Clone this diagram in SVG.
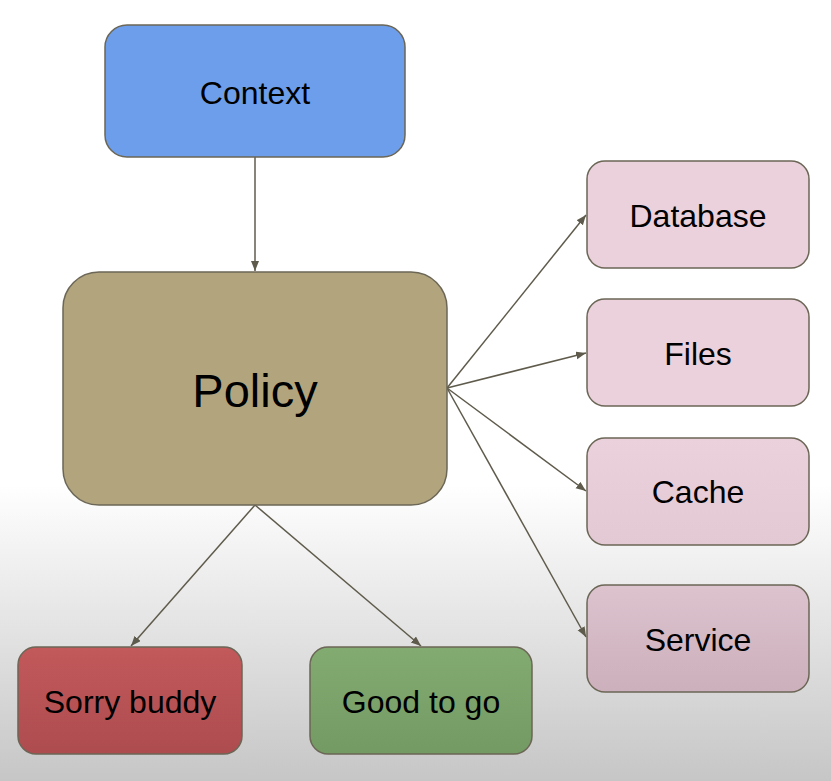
<svg xmlns="http://www.w3.org/2000/svg" width="831" height="781" viewBox="0 0 831 781">
<defs>
<linearGradient id="bg" x1="0" y1="0" x2="0" y2="1">
<stop offset="0" stop-color="#ffffff"/>
<stop offset="0.62" stop-color="#ffffff"/>
<stop offset="1" stop-color="#c6c6c6"/>
</linearGradient>
<linearGradient id="gSvc" x1="0" y1="0" x2="0" y2="1">
<stop offset="0" stop-color="#dcc3ce"/>
<stop offset="1" stop-color="#ccb0bc"/>
</linearGradient>
<linearGradient id="gCache" x1="0" y1="0" x2="0" y2="1">
<stop offset="0" stop-color="#ead1dc"/>
<stop offset="1" stop-color="#e2c9d4"/>
</linearGradient>
<linearGradient id="gRed" x1="0" y1="0" x2="0" y2="1">
<stop offset="0" stop-color="#c2595b"/>
<stop offset="1" stop-color="#ad4c4f"/>
</linearGradient>
<linearGradient id="gGreen" x1="0" y1="0" x2="0" y2="1">
<stop offset="0" stop-color="#82ab71"/>
<stop offset="1" stop-color="#739a63"/>
</linearGradient>
<marker id="ah" markerUnits="userSpaceOnUse" markerWidth="12" markerHeight="10" refX="10" refY="4" orient="auto">
<path d="M0,0 L10,4 L0,8 z" fill="#5f5b4c"/>
</marker>
<style>
.box{stroke:#6b6656;stroke-width:1.5}
.lbl{font-family:"Liberation Sans",Arial,sans-serif;font-size:32px;fill:#000;text-anchor:middle}
.edge{stroke:#5f5b4c;stroke-width:1.5;fill:none;marker-end:url(#ah)}
</style>
</defs>
<rect x="0" y="0" width="831" height="781" fill="url(#bg)"/>
<g id="connectors">
<line class="edge" x1="255" y1="157" x2="255" y2="271"/>
<line class="edge" x1="447" y1="388" x2="586" y2="215"/>
<line class="edge" x1="447" y1="388" x2="586" y2="353"/>
<line class="edge" x1="447" y1="388" x2="586" y2="491"/>
<line class="edge" x1="447" y1="388" x2="586" y2="637"/>
<line class="edge" x1="255" y1="505" x2="131" y2="646"/>
<line class="edge" x1="255" y1="505" x2="421" y2="646"/>
</g>
<g id="context">
<rect class="box" x="105" y="25" width="300" height="132" rx="22" fill="#6d9eeb"/>
<text class="lbl" x="255" y="104">Context</text>
</g>
<g id="policy">
<rect class="box" x="63" y="272" width="384" height="233" rx="36" fill="#b2a57e"/>
<text class="lbl" x="255" y="407" style="font-size:47px">Policy</text>
</g>
<g id="database">
<rect class="box" x="587" y="161" width="222" height="107" rx="18" fill="#ead1dc"/>
<text class="lbl" x="698" y="227">Database</text>
</g>
<g id="files">
<rect class="box" x="587" y="299" width="222" height="107" rx="18" fill="#ead1dc"/>
<text class="lbl" x="698" y="365">Files</text>
</g>
<g id="cache">
<rect class="box" x="587" y="438" width="222" height="107" rx="18" fill="url(#gCache)"/>
<text class="lbl" x="698" y="503">Cache</text>
</g>
<g id="service">
<rect class="box" x="587" y="585" width="222" height="107" rx="18" fill="url(#gSvc)"/>
<text class="lbl" x="698" y="651">Service</text>
</g>
<g id="sorry">
<rect class="box" x="18" y="647" width="224" height="107" rx="18" fill="url(#gRed)"/>
<text class="lbl" x="130" y="713">Sorry buddy</text>
</g>
<g id="good">
<rect class="box" x="310" y="647" width="222" height="107" rx="18" fill="url(#gGreen)"/>
<text class="lbl" x="421" y="713">Good to go</text>
</g>
</svg>
